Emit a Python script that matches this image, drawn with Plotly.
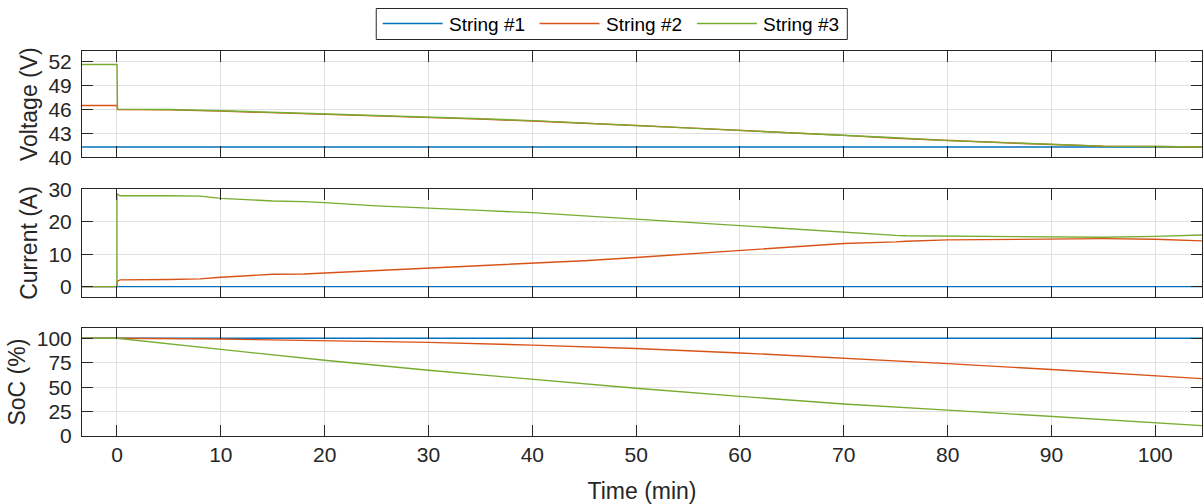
import plotly.graph_objects as go
from plotly.subplots import make_subplots

# ---------------- data ----------------
names = ["String #1", "String #2", "String #3"]
colors = ["#0072BD", "#D95319", "#77AC30"]

time_v = [-3.4, 0, 0.05, 5, 10, 15, 18, 20, 25, 30, 35, 40, 45, 50, 55, 60,
          65, 70, 75, 80, 85, 90, 95, 100, 104.5]
volt_s1 = [41.3] * len(time_v)
volt_s2 = [46.5, 46.5, 46.0, 45.95, 45.8, 45.6, 45.55, 45.45, 45.2, 45.0, 44.8,
           44.55, 44.3, 44.0, 43.7, 43.4, 43.05, 42.75, 42.4, 42.1, 41.85, 41.6,
           41.4, 41.35, 41.3]
volt_s3 = [51.65, 51.65, 46.05, 46.0, 45.85, 45.65, 45.6, 45.5, 45.25, 45.05,
           44.85, 44.6, 44.3, 44.0, 43.7, 43.4, 43.05, 42.75, 42.45, 42.1, 41.85,
           41.6, 41.4, 41.35, 41.3]

time_i = [-3.4, 0, 0, 0.3, 5, 8, 10, 13, 15, 18, 20, 25, 30, 35, 40, 45, 50,
          55, 60, 65, 70, 75, 76, 80, 85, 90, 95, 100, 104.5]
curr_s1 = [0.0] * len(time_i)
curr_s2 = [0, 0, 1.6, 2.1, 2.2, 2.4, 2.9, 3.5, 3.8, 3.9, 4.2, 5.0, 5.8, 6.4,
           7.1, 8.0, 9.0, 10.1, 11.1, 12.3, 13.3, 13.8, 14.0, 14.4, 14.6, 14.8,
           14.8, 14.6, 14.1]
curr_s3 = [0, 0, 28.6, 28.0, 28.0, 27.9, 27.2, 26.6, 26.4, 26.2, 25.9, 24.9,
           24.1, 23.5, 22.8, 21.8, 20.8, 19.7, 18.6, 17.7, 16.6, 15.8, 15.7,
           15.6, 15.4, 15.2, 15.2, 15.5, 15.9]

time_s = [-3.4, 0, 10, 20, 30, 40, 50, 60, 70, 80, 90, 100, 104.5]
soc_s1 = [100.0] * len(time_s)
soc_s2 = [100, 100, 99.2, 97.8, 95.8, 93.0, 89.5, 85.0, 79.6, 74.1, 68.0, 61.8, 58.7]
soc_s3 = [100, 100, 88.6, 77.5, 67.3, 57.8, 48.8, 40.5, 32.8, 26.5, 20.2, 14.0, 10.6]

x_ticks = [0, 10, 20, 30, 40, 50, 60, 70, 80, 90, 100]
v_ticks = [40, 43, 46, 49, 52]
i_ticks = [0, 10, 20, 30]
s_ticks = [0, 25, 50, 75, 100]

# ---------------- figure ----------------
W, H = 1204, 504
ML, MR, MT, MB = 82, 1, 51, 68
PW, PH = W - ML - MR, H - MT - MB

fig = make_subplots(rows=3, cols=1, shared_xaxes=False, vertical_spacing=0.08)

panels = [
    (time_v, [volt_s1, volt_s2, volt_s3]),
    (time_i, [curr_s1, curr_s2, curr_s3]),
    (time_s, [soc_s1, soc_s2, soc_s3]),
]
for r, (tx, series) in enumerate(panels, start=1):
    for k, ys in enumerate(series):
        fig.add_trace(go.Scatter(x=tx, y=ys, mode="lines", name=names[k],
                                 line=dict(color=colors[k], width=1.4),
                                 showlegend=False), row=r, col=1)

font_family = "Liberation Sans, Arial, Helvetica, sans-serif"
axc = "#262626"
gridc = "#e0e0e0"

common_x = dict(range=[-3.37, 104.5], tickvals=x_ticks, showgrid=True,
                gridcolor=gridc, showline=True, mirror="ticks", linecolor=axc,
                linewidth=1, ticks="inside", ticklen=11, tickcolor=axc,
                zeroline=False, tickfont=dict(size=21, color=axc))
common_y = dict(showgrid=True, gridcolor=gridc, showline=True, mirror="ticks",
                linecolor=axc, linewidth=1, ticks="inside", ticklen=11,
                tickcolor=axc, zeroline=False, tickfont=dict(size=21, color=axc),
                ticklabelstandoff=5)

doms = [[0.7239, 1.0], [0.3618, 0.6408], [0.0, 0.2797]]
for r in range(1, 4):
    xa = dict(common_x, domain=[0, 1])
    if r < 3:
        xa["showticklabels"] = False
    else:
        xa["title"] = dict(text="Time (min)", font=dict(size=23, color=axc), standoff=17)
    fig.update_xaxes(**xa, row=r, col=1)

fig.update_yaxes(**common_y, domain=doms[0], range=[40, 53.35], tickvals=v_ticks,
                 title=dict(text="Voltage (V)", font=dict(size=23, color=axc), standoff=4),
                 row=1, col=1)
fig.update_yaxes(**common_y, domain=doms[1], range=[-3.1, 30], tickvals=i_ticks,
                 title=dict(text="Current (A)", font=dict(size=23, color=axc), standoff=4),
                 row=2, col=1)
fig.update_yaxes(**common_y, domain=doms[2], range=[0, 110.2], tickvals=s_ticks,
                 title=dict(text="SoC (%)", font=dict(size=23, color=axc), standoff=4),
                 row=3, col=1)

# ---------------- legend (drawn as a box, sample lines and labels) ----------------
def px_x(px):
    return (px - ML) / PW

def px_y(py):
    return (H - MB - py) / PH

shapes = [dict(type="rect", xref="paper", yref="paper",
               x0=px_x(376.5), x1=px_x(848), y0=px_y(8.5), y1=px_y(39.5),
               line=dict(color=axc, width=1), fillcolor="white", layer="above")]
annotations = []
leg_line_x = [383, 540, 697.5]
leg_y = 23.5
for k in range(3):
    shapes.append(dict(type="line", xref="paper", yref="paper",
                       x0=px_x(leg_line_x[k]), x1=px_x(leg_line_x[k] + 60),
                       y0=px_y(leg_y), y1=px_y(leg_y),
                       line=dict(color=colors[k], width=1.4), layer="above"))
    annotations.append(dict(xref="paper", yref="paper", x=px_x(leg_line_x[k] + 64),
                            y=px_y(leg_y + 0.5), xanchor="left", yanchor="middle",
                            text=names[k], showarrow=False,
                            font=dict(size=19, color="black")))

fig.update_layout(
    width=W, height=H,
    margin=dict(l=ML, r=MR, t=MT, b=MB),
    paper_bgcolor="white", plot_bgcolor="white",
    font=dict(family=font_family, color=axc),
    showlegend=False,
    shapes=shapes,
    annotations=annotations,
)

post = ("document.body.style.margin='0';"
        "document.body.style.overflow='hidden';"
        "var gd=document.getElementById('{plot_id}');"
        "Plotly.relayout(gd,{width:1204,height:504});")
fig.write_html("out.html", post_script=post, config={"displayModeBar": False})
